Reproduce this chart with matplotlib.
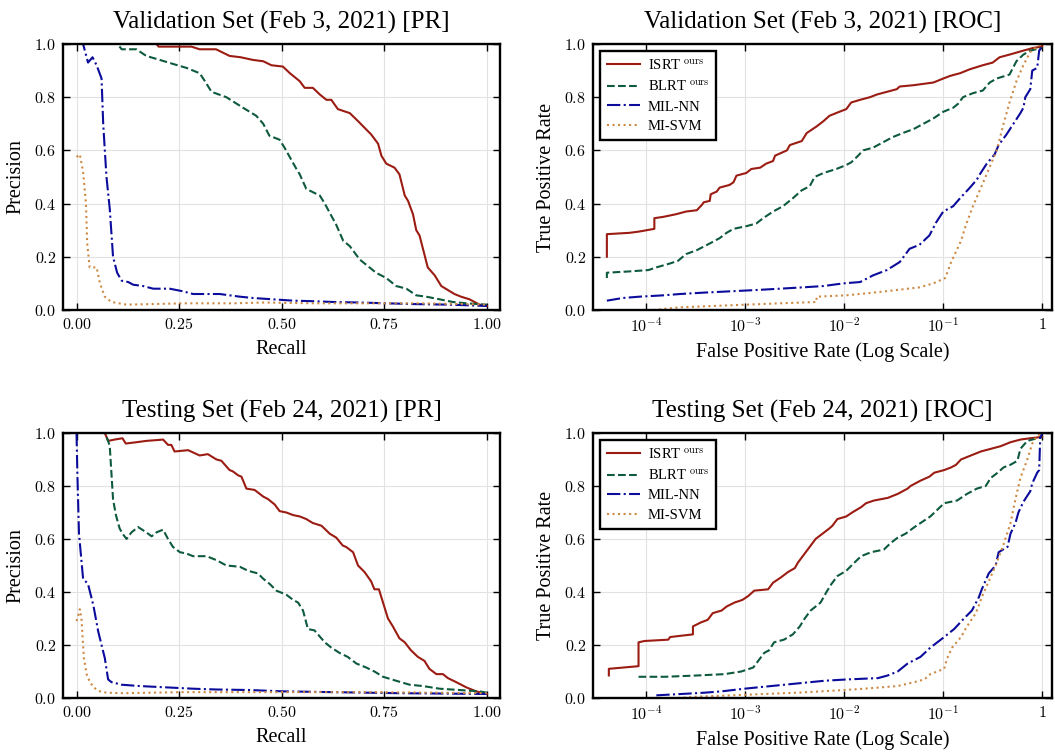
import matplotlib
matplotlib.use("Agg")
import matplotlib.pyplot as plt
import numpy as np
from matplotlib.ticker import FuncFormatter, FixedLocator

plt.rcParams["font.family"] = ["Liberation Serif", "DejaVu Serif"]
plt.rcParams["mathtext.fontset"] = "cm"

methods = ["ISRT$^{\\ \\rm ours}$", "BLRT$^{\\ \\rm ours}$", "MIL-NN", "MI-SVM"]
colors = ["#9b1c12", "#0e5a3c", "#0b0b9c", "#cd8a45"]
styles = ["-", "--", "-.", ":"]

# ---- Validation PR (recall, precision) ----
val_pr_isrt_r = [0.0, 0.195, 0.20, 0.28, 0.30, 0.34, 0.373, 0.40, 0.43, 0.455, 0.475, 0.503, 0.52, 0.544, 0.556,
                 0.576, 0.593, 0.609, 0.621, 0.637, 0.666, 0.686, 0.702, 0.718, 0.735, 0.743, 0.755, 0.775, 0.787,
                 0.80, 0.808, 0.82, 0.828, 0.836, 0.856, 0.873, 0.889, 0.905, 0.921, 0.937, 0.958, 0.982, 1.0]
val_pr_isrt_p = [1.0, 1.0, 0.99, 0.99, 0.98, 0.98, 0.955, 0.95, 0.94, 0.935, 0.92, 0.915, 0.89, 0.86, 0.835,
                 0.835, 0.81, 0.79, 0.79, 0.755, 0.74, 0.71, 0.685, 0.66, 0.625, 0.58, 0.55, 0.535, 0.51,
                 0.43, 0.41, 0.36, 0.30, 0.28, 0.16, 0.13, 0.09, 0.075, 0.06, 0.05, 0.04, 0.02, 0.015]
val_pr_blrt_r = [0.0, 0.10, 0.11, 0.146, 0.17, 0.203, 0.235, 0.268, 0.30, 0.313, 0.329, 0.365, 0.406, 0.438,
                 0.455, 0.47, 0.495, 0.507, 0.536, 0.544, 0.56, 0.593, 0.605, 0.633, 0.65, 0.666, 0.69, 0.706,
                 0.73, 0.755, 0.779, 0.804, 0.828, 0.852, 0.885, 0.917, 0.95, 1.0]
val_pr_blrt_p = [1.0, 1.0, 0.98, 0.98, 0.955, 0.94, 0.925, 0.91, 0.89, 0.86, 0.82, 0.80, 0.76, 0.73,
                 0.70, 0.655, 0.64, 0.61, 0.53, 0.51, 0.455, 0.43, 0.40, 0.32, 0.26, 0.24, 0.19, 0.17,
                 0.14, 0.12, 0.09, 0.08, 0.055, 0.05, 0.04, 0.03, 0.025, 0.02]
val_pr_mil_r = [0.0, 0.016, 0.028, 0.039, 0.049, 0.061, 0.065, 0.073, 0.081, 0.089, 0.099, 0.11, 0.126, 0.138,
                0.162, 0.187, 0.227, 0.26, 0.284, 0.349, 0.398, 0.43, 0.479, 0.528, 0.576, 0.625, 0.69, 0.755,
                0.828, 0.909, 1.0]
val_pr_mil_p = [1.0, 1.0, 0.93, 0.95, 0.92, 0.87, 0.70, 0.50, 0.38, 0.20, 0.14, 0.11, 0.105, 0.095,
                0.09, 0.08, 0.08, 0.07, 0.06, 0.06, 0.05, 0.045, 0.04, 0.035, 0.033, 0.03, 0.028, 0.025,
                0.022, 0.02, 0.015]
val_pr_svm_r = [0.0, 0.008, 0.016, 0.023, 0.026, 0.032, 0.049, 0.057, 0.069, 0.085, 0.122, 0.18, 0.26, 0.38,
                0.46, 0.58, 0.71, 0.83, 0.95, 1.0]
val_pr_svm_p = [0.575, 0.585, 0.52, 0.40, 0.25, 0.16, 0.16, 0.10, 0.05, 0.03, 0.02, 0.022, 0.025, 0.025,
                0.028, 0.025, 0.025, 0.025, 0.022, 0.02]

# ---- Testing PR ----
test_pr_isrt_r = [0.0, 0.069, 0.077, 0.093, 0.112, 0.12, 0.146, 0.17, 0.211, 0.223, 0.231, 0.239, 0.272, 0.30,
                  0.32, 0.341, 0.353, 0.373, 0.381, 0.394, 0.402, 0.414, 0.434, 0.455, 0.467, 0.483, 0.495,
                  0.511, 0.528, 0.544, 0.56, 0.576, 0.597, 0.617, 0.633, 0.649, 0.657, 0.674, 0.686, 0.702,
                  0.718, 0.726, 0.737, 0.747, 0.759, 0.771, 0.787, 0.80, 0.815, 0.832, 0.848, 0.86, 0.877,
                  0.893, 0.905, 0.925, 0.95, 0.974, 1.0]
test_pr_isrt_p = [1.0, 1.0, 0.97, 0.975, 0.98, 0.96, 0.965, 0.97, 0.975, 0.955, 0.955, 0.93, 0.935, 0.915,
                  0.92, 0.90, 0.895, 0.86, 0.855, 0.84, 0.835, 0.79, 0.785, 0.76, 0.75, 0.73, 0.705,
                  0.70, 0.69, 0.685, 0.675, 0.66, 0.65, 0.62, 0.605, 0.575, 0.57, 0.55, 0.50, 0.475,
                  0.44, 0.41, 0.41, 0.36, 0.30, 0.27, 0.225, 0.21, 0.18, 0.155, 0.14, 0.11, 0.09,
                  0.09, 0.075, 0.06, 0.04, 0.025, 0.015]
test_pr_blrt_r = [0.0, 0.069, 0.077, 0.081, 0.089, 0.096, 0.105, 0.112, 0.122, 0.134, 0.15, 0.17, 0.183, 0.195,
                  0.211, 0.223, 0.235, 0.252, 0.268, 0.284, 0.317, 0.341, 0.365, 0.398, 0.418, 0.442, 0.455,
                  0.471, 0.487, 0.511, 0.528, 0.54, 0.552, 0.564, 0.58, 0.605, 0.621, 0.641, 0.661, 0.682,
                  0.706, 0.726, 0.747, 0.779, 0.812, 0.844, 0.885, 0.933, 0.982, 1.0]
test_pr_blrt_p = [1.0, 1.0, 0.97, 0.95, 0.75, 0.69, 0.64, 0.62, 0.60, 0.625, 0.645, 0.625, 0.61, 0.625,
                  0.635, 0.60, 0.57, 0.55, 0.545, 0.535, 0.535, 0.52, 0.50, 0.495, 0.48, 0.47, 0.45,
                  0.43, 0.405, 0.39, 0.37, 0.36, 0.33, 0.26, 0.255, 0.21, 0.19, 0.17, 0.155, 0.13,
                  0.115, 0.10, 0.08, 0.065, 0.05, 0.045, 0.035, 0.03, 0.025, 0.02]
test_pr_mil_r = [0.0, 0.002, 0.006, 0.016, 0.028, 0.041, 0.053, 0.069, 0.077, 0.085, 0.11, 0.154, 0.219, 0.284,
                 0.341, 0.422, 0.503, 0.625, 0.706, 0.787, 0.869, 1.0]
test_pr_mil_p = [1.0, 0.85, 0.62, 0.45, 0.43, 0.35, 0.25, 0.15, 0.07, 0.06, 0.05, 0.045, 0.04, 0.035,
                 0.032, 0.03, 0.025, 0.022, 0.02, 0.018, 0.017, 0.015]
test_pr_svm_r = [0.0, 0.004, 0.008, 0.012, 0.018, 0.026, 0.041, 0.057, 0.073, 0.114, 0.18, 0.26, 0.38, 0.544,
                 0.706, 0.869, 1.0]
test_pr_svm_p = [0.29, 0.31, 0.335, 0.30, 0.15, 0.08, 0.04, 0.025, 0.02, 0.018, 0.02, 0.022, 0.022, 0.022,
                 0.022, 0.02, 0.018]

# ---- Validation ROC (log10 FPR, TPR) ----
val_roc_isrt_lf = [-4.40, -4.40, -4.17, -4.07, -3.92, -3.92, -3.83, -3.70, -3.60, -3.49, -3.44, -3.42, -3.36,
                   -3.35, -3.29, -3.26, -3.16, -3.12, -3.09, -2.99, -2.94, -2.85, -2.79, -2.72, -2.70, -2.58,
                   -2.55, -2.43, -2.38, -2.28, -2.21, -2.15, -2.05, -1.98, -1.93, -1.84, -1.74, -1.67, -1.57,
                   -1.47, -1.44, -1.30, -1.10, -1.00, -0.93, -0.83, -0.73, -0.60, -0.50, -0.43, -0.33, -0.19,
                   -0.09, 0.0, 0.0]
val_roc_isrt_t = [0.20, 0.285, 0.29, 0.295, 0.305, 0.345, 0.35, 0.36, 0.37, 0.375, 0.395, 0.405, 0.41,
                  0.435, 0.445, 0.46, 0.47, 0.48, 0.505, 0.515, 0.53, 0.535, 0.55, 0.56, 0.58, 0.60,
                  0.62, 0.635, 0.665, 0.69, 0.71, 0.73, 0.745, 0.755, 0.78, 0.79, 0.80, 0.81, 0.82,
                  0.83, 0.84, 0.845, 0.855, 0.87, 0.88, 0.89, 0.905, 0.92, 0.93, 0.95, 0.96, 0.975,
                  0.985, 0.99, 1.0]
val_roc_blrt_lf = [-4.40, -4.40, -4.17, -3.98, -3.90, -3.76, -3.68, -3.60, -3.49, -3.36, -3.26, -3.19, -3.12,
                   -2.99, -2.89, -2.82, -2.72, -2.62, -2.52, -2.43, -2.35, -2.30, -2.21, -2.08, -1.98, -1.93,
                   -1.86, -1.81, -1.71, -1.61, -1.51, -1.41, -1.30, -1.20, -1.10, -1.00, -0.90, -0.85, -0.80,
                   -0.70, -0.60, -0.53, -0.46, -0.33, -0.26, -0.19, -0.12, 0.0]
val_roc_blrt_t = [0.12, 0.14, 0.145, 0.15, 0.16, 0.175, 0.185, 0.21, 0.225, 0.25, 0.27, 0.29, 0.305,
                  0.315, 0.325, 0.345, 0.37, 0.39, 0.42, 0.45, 0.465, 0.50, 0.515, 0.53, 0.545, 0.555,
                  0.58, 0.60, 0.61, 0.63, 0.65, 0.665, 0.68, 0.70, 0.72, 0.745, 0.76, 0.775, 0.80,
                  0.815, 0.825, 0.855, 0.87, 0.885, 0.935, 0.96, 0.975, 0.985]
val_roc_mil_lf = [-4.40, -4.24, -4.07, -3.83, -3.66, -3.43, -3.16, -2.89, -2.65, -2.42, -2.21, -2.01, -1.84,
                  -1.71, -1.57, -1.44, -1.34, -1.24, -1.14, -1.07, -1.00, -0.90, -0.83, -0.73, -0.66, -0.63,
                  -0.56, -0.48, -0.44, -0.36, -0.29, -0.22, -0.19, -0.17, -0.12, -0.10, -0.05, -0.03, 0.0]
val_roc_mil_t = [0.035, 0.045, 0.05, 0.055, 0.06, 0.065, 0.07, 0.075, 0.08, 0.085, 0.09, 0.10, 0.105,
                 0.13, 0.15, 0.18, 0.23, 0.245, 0.28, 0.33, 0.37, 0.39, 0.42, 0.46, 0.49, 0.51,
                 0.55, 0.585, 0.62, 0.66, 0.70, 0.74, 0.76, 0.80, 0.83, 0.90, 0.91, 0.975, 0.99]
val_roc_svm_lf = [-3.93, -3.66, -3.33, -2.99, -2.65, -2.28, -2.28, -1.98, -1.71, -1.47, -1.24, -1.10, -0.98,
                  -0.92, -0.87, -0.82, -0.77, -0.70, -0.63, -0.55, -0.46, -0.39, -0.33, -0.26, -0.19, -0.12,
                  -0.05, 0.0]
val_roc_svm_t = [0.0, 0.01, 0.015, 0.02, 0.025, 0.03, 0.05, 0.055, 0.065, 0.075, 0.085, 0.10, 0.12,
                 0.18, 0.22, 0.26, 0.32, 0.39, 0.45, 0.52, 0.60, 0.70, 0.78, 0.86, 0.92, 0.97,
                 0.99, 1.0]

# ---- Testing ROC ----
test_roc_isrt_lf = [-4.38, -4.38, -4.08, -4.08, -4.02, -3.78, -3.76, -3.53, -3.53, -3.45, -3.38, -3.33, -3.24,
                    -3.19, -3.11, -3.03, -2.97, -2.91, -2.77, -2.72, -2.64, -2.57, -2.50, -2.47, -2.39, -2.34,
                    -2.29, -2.22, -2.15, -2.12, -2.07, -1.98, -1.92, -1.83, -1.78, -1.70, -1.56, -1.46, -1.36,
                    -1.33, -1.23, -1.14, -1.09, -0.99, -0.92, -0.87, -0.82, -0.72, -0.62, -0.52, -0.42, -0.32,
                    -0.22, -0.12, 0.0]
test_roc_isrt_t = [0.085, 0.11, 0.12, 0.21, 0.215, 0.22, 0.23, 0.24, 0.27, 0.285, 0.295, 0.32, 0.33,
                   0.345, 0.36, 0.37, 0.385, 0.405, 0.41, 0.435, 0.455, 0.475, 0.49, 0.51, 0.55, 0.575,
                   0.60, 0.62, 0.64, 0.65, 0.675, 0.685, 0.70, 0.72, 0.735, 0.745, 0.755, 0.77, 0.79,
                   0.80, 0.82, 0.835, 0.85, 0.86, 0.87, 0.88, 0.90, 0.915, 0.93, 0.94, 0.95, 0.965,
                   0.975, 0.98, 0.985]
test_roc_blrt_lf = [-4.08, -3.81, -3.48, -3.21, -3.04, -2.92, -2.87, -2.81, -2.76, -2.71, -2.61, -2.52, -2.45,
                    -2.40, -2.34, -2.24, -2.18, -2.13, -2.07, -1.98, -1.90, -1.83, -1.73, -1.60, -1.53, -1.46,
                    -1.38, -1.29, -1.21, -1.13, -1.06, -0.99, -0.86, -0.76, -0.66, -0.57, -0.52, -0.45, -0.39,
                    -0.32, -0.25, -0.22, -0.15, 0.0]
test_roc_blrt_t = [0.08, 0.08, 0.085, 0.09, 0.10, 0.115, 0.14, 0.17, 0.18, 0.21, 0.22, 0.24, 0.27,
                   0.30, 0.33, 0.36, 0.40, 0.43, 0.46, 0.48, 0.51, 0.535, 0.55, 0.56, 0.585, 0.605,
                   0.62, 0.645, 0.665, 0.685, 0.71, 0.735, 0.745, 0.77, 0.79, 0.80, 0.83, 0.85, 0.87,
                   0.88, 0.895, 0.94, 0.97, 0.985]
test_roc_mil_lf = [-3.90, -3.65, -3.41, -3.24, -3.01, -2.74, -2.47, -2.20, -1.97, -1.66, -1.56, -1.46, -1.36,
                   -1.23, -1.13, -0.99, -0.89, -0.79, -0.71, -0.64, -0.61, -0.54, -0.47, -0.44, -0.35, -0.32,
                   -0.27, -0.24, -0.19, -0.12, -0.10, -0.05, -0.03, -0.02, 0.0]
test_roc_mil_t = [0.01, 0.015, 0.02, 0.025, 0.035, 0.045, 0.055, 0.065, 0.07, 0.075, 0.085, 0.10, 0.13,
                  0.155, 0.19, 0.23, 0.26, 0.30, 0.33, 0.38, 0.41, 0.47, 0.50, 0.55, 0.57, 0.62,
                  0.66, 0.70, 0.74, 0.78, 0.81, 0.85, 0.86, 0.98, 1.0]
test_roc_svm_lf = [-3.68, -3.48, -3.14, -2.81, -2.47, -2.00, -1.80, -1.46, -1.29, -1.19, -1.13, -0.99, -0.96,
                   -0.91, -0.82, -0.76, -0.67, -0.61, -0.54, -0.47, -0.39, -0.32, -0.27, -0.22, -0.15, -0.10,
                   -0.05, 0.0]
test_roc_svm_t = [0.0, 0.005, 0.01, 0.015, 0.02, 0.03, 0.035, 0.045, 0.06, 0.07, 0.09, 0.11, 0.15,
                  0.19, 0.23, 0.27, 0.32, 0.38, 0.44, 0.50, 0.58, 0.66, 0.75, 0.83, 0.90, 0.96,
                  0.99, 1.0]

pr_val = [(val_pr_isrt_r, val_pr_isrt_p), (val_pr_blrt_r, val_pr_blrt_p),
          (val_pr_mil_r, val_pr_mil_p), (val_pr_svm_r, val_pr_svm_p)]
pr_test = [(test_pr_isrt_r, test_pr_isrt_p), (test_pr_blrt_r, test_pr_blrt_p),
           (test_pr_mil_r, test_pr_mil_p), (test_pr_svm_r, test_pr_svm_p)]
roc_val = [(val_roc_isrt_lf, val_roc_isrt_t), (val_roc_blrt_lf, val_roc_blrt_t),
           (val_roc_mil_lf, val_roc_mil_t), (val_roc_svm_lf, val_roc_svm_t)]
roc_test = [(test_roc_isrt_lf, test_roc_isrt_t), (test_roc_blrt_lf, test_roc_blrt_t),
            (test_roc_mil_lf, test_roc_mil_t), (test_roc_svm_lf, test_roc_svm_t)]


def style_axes(ax):
    for s in ax.spines.values():
        s.set_linewidth(1.7)
    ax.tick_params(direction="in", length=5, width=1.0, top=True, right=True, labelsize=11.5, pad=5)
    ax.grid(True, color="#e2e2e2", lw=0.8)
    ax.set_axisbelow(True)
    ax.set_ylim(0, 1.0)
    ax.set_yticks([0.0, 0.2, 0.4, 0.6, 0.8, 1.0])
    ax.yaxis.set_major_formatter(FuncFormatter(lambda v, p: "$%.1f$" % v))


def draw_pr(ax, curves, title):
    for (r, p), c, ls, lab in zip(curves, colors, styles, methods):
        ax.plot(r, p, color=c, ls=ls, lw=1.5, label=lab)
    style_axes(ax)
    ax.set_xlim(-0.033, 1.032)
    ax.set_xticks([0.0, 0.25, 0.5, 0.75, 1.0])
    ax.xaxis.set_major_formatter(FuncFormatter(lambda v, p: "$%.2f$" % v))
    ax.set_xlabel("Recall", fontsize=14.5, labelpad=5)
    ax.set_ylabel("Precision", fontsize=14.5, labelpad=6)
    ax.set_title(title, fontsize=18, pad=11)


def fmt_log(v, p):
    if abs(v - 1) < 1e-9:
        return "$1$"
    return "$10^{%d}$" % int(round(np.log10(v)))


def draw_roc(ax, curves, title):
    for (lf, t), c, ls, lab in zip(curves, colors, styles, methods):
        ax.plot(10 ** np.array(lf), t, color=c, ls=ls, lw=1.5, label=lab)
    ax.set_xscale("log")
    style_axes(ax)
    ax.set_xlim(10 ** -4.54, 10 ** 0.1)
    ax.xaxis.set_major_locator(FixedLocator([1e-4, 1e-3, 1e-2, 1e-1, 1.0]))
    ax.xaxis.set_minor_locator(FixedLocator([]))
    ax.xaxis.set_major_formatter(FuncFormatter(fmt_log))
    ax.set_xlabel("False Positive Rate (Log Scale)", fontsize=14.5, labelpad=5)
    ax.set_ylabel("True Positive Rate", fontsize=14.5, labelpad=6)
    ax.set_title(title, fontsize=18, pad=11)
    leg = ax.legend(loc="upper left", fontsize=10.5, fancybox=False, framealpha=1,
                    edgecolor="black", borderaxespad=0.5, handlelength=2.3,
                    labelspacing=0.45, handletextpad=0.5, borderpad=0.45)
    leg.get_frame().set_linewidth(1.7)


fig = plt.figure(figsize=(10.55, 7.54), dpi=100)
ax1 = fig.add_axes([0.0597, 0.5889, 0.4142, 0.3528])
ax2 = fig.add_axes([0.5621, 0.5889, 0.4351, 0.3528])
ax3 = fig.add_axes([0.0597, 0.0743, 0.4142, 0.3515])
ax4 = fig.add_axes([0.5621, 0.0743, 0.4351, 0.3515])

draw_pr(ax1, pr_val, "Validation Set (Feb 3, 2021) [PR]")
draw_roc(ax2, roc_val, "Validation Set (Feb 3, 2021) [ROC]")
draw_pr(ax3, pr_test, "Testing Set (Feb 24, 2021) [PR]")
draw_roc(ax4, roc_test, "Testing Set (Feb 24, 2021) [ROC]")

fig.savefig("out.png", dpi=100)
